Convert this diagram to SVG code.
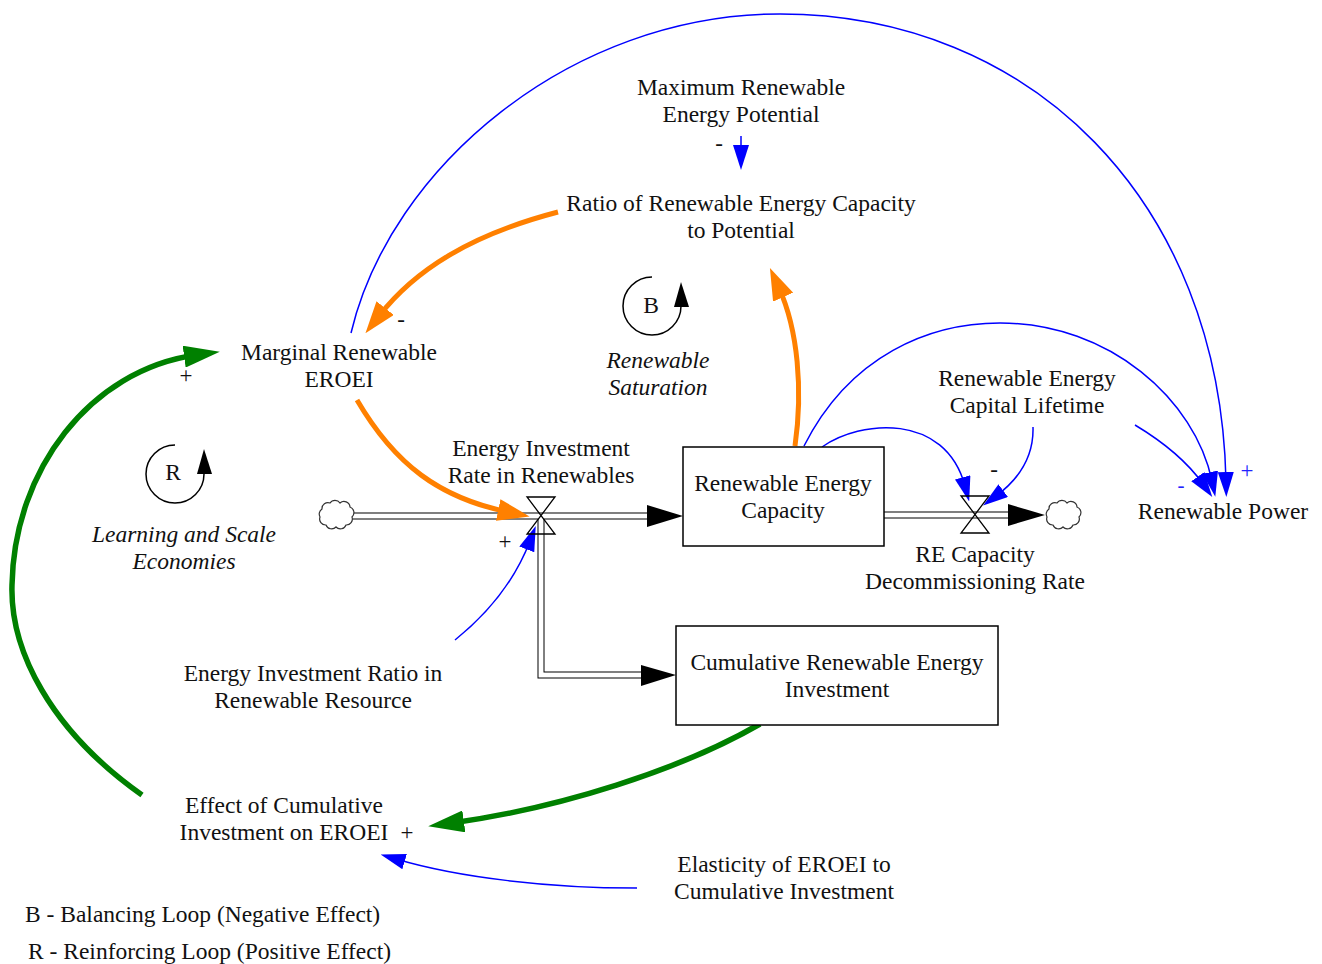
<svg xmlns="http://www.w3.org/2000/svg" width="1322" height="964" viewBox="0 0 1322 964">
<defs>
<style>
.t{font-family:"Liberation Serif","Times New Roman",serif;font-size:23.5px;fill:#111;text-anchor:middle}
.s{font-size:23px}
.sm{font-size:21px}
.i{font-style:italic}
.l{text-anchor:start}
.pb{fill:#2222ff}
.blue{fill:none;stroke:#0000ff;stroke-width:1.5}
.orange{fill:none;stroke:#ff8000;stroke-width:5}
.green{fill:none;stroke:#008000;stroke-width:5.5}
.pipeo{fill:none;stroke:#000;stroke-width:7;stroke-linejoin:miter}
.pipei{fill:none;stroke:#fff;stroke-width:5;stroke-linejoin:miter}
.stock{fill:#fff;stroke:#000;stroke-width:1.5}
.valve{fill:none;stroke:#000;stroke-width:1.3}
.cloud{fill:#fff;stroke:#333;stroke-width:1.2}
.loop{fill:none;stroke:#000;stroke-width:1.5}
</style>
<marker id="ab" markerUnits="userSpaceOnUse" markerWidth="25" markerHeight="16" refX="9" refY="8" orient="auto"><path d="M0,0 L25,8 L0,16 z" fill="#0000ff"/></marker>
<marker id="ao" markerUnits="userSpaceOnUse" markerWidth="32" markerHeight="22" refX="10" refY="11" orient="auto"><path d="M0,0 L32,11 L0,22 z" fill="#ff8000"/></marker>
<marker id="ag" markerUnits="userSpaceOnUse" markerWidth="36" markerHeight="22" refX="12" refY="11" orient="auto"><path d="M0,0 L36,11 L0,22 z" fill="#008000"/></marker>
<path id="cl" d="M-14,-6 a6,6 0 0 1 8,-6 a6,6 0 0 1 10,0 a6,6 0 0 1 10,4 a6,6 0 0 1 2,10 a6,6 0 0 1 -6,8 a6,6 0 0 1 -10,2 a6,6 0 0 1 -10,-2 a6,6 0 0 1 -6,-8 a6,6 0 0 1 2,-8 z"/>
</defs>
<rect width="1322" height="964" fill="#fff"/>

<g id="pipes">
<path class="pipeo" d="M353,516 L647,516"/>
<path class="pipeo" d="M541,516 L541,675 L641,675"/>
<path class="pipeo" d="M884,515 L1008,515"/>
<path class="pipei" d="M353,516 L647,516"/>
<path class="pipei" d="M541,516 L541,675 L641,675"/>
<path class="pipei" d="M884,515 L1008,515"/>
<polygon points="683,516 647,505 647,527" fill="#000"/>
<polygon points="676,675 641,665 641,686" fill="#000"/>
<polygon points="1045,515 1008,504 1008,526" fill="#000"/>
<use href="#cl" class="cloud" x="336" y="515"/>
<use href="#cl" class="cloud" x="1063" y="515"/>
</g>

<g id="connectors">
<path class="blue" marker-end="url(#ab)" d="M351,333 C390,168 570,14 780,14 C1030,14 1220,200 1226,481"/>
<path class="blue" marker-end="url(#ab)" d="M804,446 C850,355 930,323 1000,323 C1110,323 1195,400 1212,481"/>
<path class="blue" marker-end="url(#ab)" d="M1135,425 C1160,440 1186,460 1203,484"/>
<path class="blue" marker-end="url(#ab)" d="M822,447 C860,420 945,412 965,486"/>
<path class="blue" marker-end="url(#ab)" d="M1033,427 C1034,460 1015,482 996,496"/>
<path class="blue" marker-end="url(#ab)" d="M455,640 C490,612 515,580 530,541"/>
<path class="blue" marker-end="url(#ab)" d="M637,888 C550,888 460,878 396,859"/>
<path class="blue" marker-end="url(#ab)" d="M741,136 L741,154"/>
<path class="orange" marker-end="url(#ao)" d="M558,212 C470,235 415,270 379,316"/>
<path class="orange" marker-end="url(#ao)" d="M357,400 C395,465 440,498 508,512"/>
<path class="orange" marker-end="url(#ao)" d="M795,446 C803,390 798,330 779,288"/>
<path class="green" marker-end="url(#ag)" d="M142,795 C50,730 10,650 12,585 C14,470 90,370 196,355"/>
<path class="green" marker-end="url(#ag)" d="M760,724 C680,770 560,808 452,823"/>
</g>

<g id="valve-investment">
<polygon class="valve" points="527,497 555,497 527,534 555,534"/>
<text class="t" x="541" y="456">Energy Investment</text>
<text class="t" x="541" y="483">Rate in Renewables</text>
</g>
<g id="valve-decommission">
<polygon class="valve" points="961,496 989,496 961,533 989,533"/>
<text class="t" x="975" y="562">RE Capacity</text>
<text class="t" x="975" y="589">Decommissioning Rate</text>
</g>

<g id="stock-capacity">
<rect class="stock" x="683" y="447" width="201" height="99"/>
<text class="t" x="783" y="491">Renewable Energy</text>
<text class="t" x="783" y="518">Capacity</text>
</g>
<g id="stock-cumulative">
<rect class="stock" x="676" y="626" width="322" height="99"/>
<text class="t" x="837" y="670">Cumulative Renewable Energy</text>
<text class="t" x="837" y="697">Investment</text>
</g>

<g id="max-potential">
<text class="t" x="741" y="95">Maximum Renewable</text>
<text class="t" x="741" y="122">Energy Potential</text>
</g>
<g id="ratio">
<text class="t" x="741" y="211">Ratio of Renewable Energy Capacity</text>
<text class="t" x="741" y="238">to Potential</text>
</g>
<g id="marginal-eroei">
<text class="t" x="339" y="360">Marginal Renewable</text>
<text class="t" x="339" y="387">EROEI</text>
</g>
<g id="lifetime">
<text class="t" x="1027" y="386">Renewable Energy</text>
<text class="t" x="1027" y="413">Capital Lifetime</text>
</g>
<g id="renewable-power">
<text class="t" x="1223" y="519">Renewable Power</text>
</g>
<g id="investment-ratio">
<text class="t" x="313" y="681">Energy Investment Ratio in</text>
<text class="t" x="313" y="708">Renewable Resource</text>
</g>
<g id="effect-cumulative">
<text class="t" x="284" y="813">Effect of Cumulative</text>
<text class="t" x="284" y="840">Investment on EROEI</text>
</g>
<g id="elasticity">
<text class="t" x="784" y="872">Elasticity of EROEI to</text>
<text class="t" x="784" y="899">Cumulative Investment</text>
</g>

<g id="polarities">
<text class="t s" x="719" y="151">-</text>
<text class="t s" x="401" y="327">-</text>
<text class="t s" x="186" y="383">+</text>
<text class="t s" x="505" y="549">+</text>
<text class="t s" x="994" y="477">-</text>
<text class="t s" x="407" y="840">+</text>
<text class="t sm pb" x="1181" y="492">-</text>
<text class="t s pb" x="1247" y="478">+</text>
</g>

<g id="loop-B">
<path class="loop" d="M652,277 A29,29 0 1 0 681,306"/>
<polygon points="681,282 674,307 689,307" fill="#000"/>
<text class="t" x="651" y="313">B</text>
<text class="t i" x="658" y="368">Renewable</text>
<text class="t i" x="658" y="395">Saturation</text>
</g>
<g id="loop-R">
<path class="loop" d="M175,445 A29,29 0 1 0 204,474"/>
<polygon points="204,449 197,474 212,474" fill="#000"/>
<text class="t" x="173" y="480">R</text>
<text class="t i" x="184" y="542">Learning and Scale</text>
<text class="t i" x="184" y="569">Economies</text>
</g>

<g id="legend">
<text class="t l" x="25" y="922">B - Balancing Loop (Negative Effect)</text>
<text class="t l" x="28" y="959">R - Reinforcing Loop (Positive Effect)</text>
</g>
</svg>
